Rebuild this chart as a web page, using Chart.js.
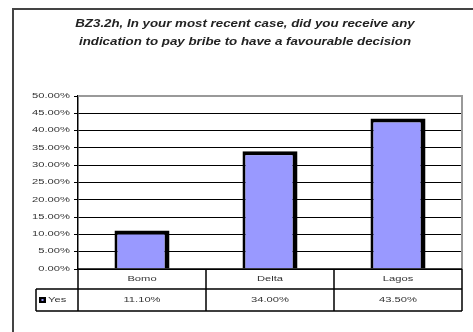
<!DOCTYPE html>
<html>
<head>
<meta charset="utf-8">
<style>
  html, body { margin: 0; padding: 0; background: #ffffff; overflow: hidden; }
  #wrap { width: 473px; height: 332px; overflow: hidden; }
  canvas { display: block; }
</style>
<script src="https://cdn.jsdelivr.net/npm/chart.js@4/dist/chart.umd.min.js"></script>
</head>
<body>
<div id="wrap"><canvas id="chart" width="473" height="332"></canvas></div>
<script>
// Survey answers: share of respondents who got a bribe hint, by court location
const categories = ['Bomo', 'Delta', 'Lagos'];
const seriesName = 'Yes';
const yesValues = [0.111, 0.34, 0.435];
const titleLines = [
  'BZ3.2h, In your most recent case, did you receive any',
  'indication to pay bribe to have a favourable decision'
];

const BAR_FILL = '#9999ff';
const SMALL_FONT = '6.5px "Liberation Sans", Arial, sans-serif';
const SMALL_STRETCH = 1.72;
const TEXT_COLOR = '#333333';

function pct(v) { return (v * 100).toFixed(2) + '%'; }

// Text drawn with a horizontal stretch (wide, squat lettering)
function wideText(ctx, text, x, y, align, sx) {
  ctx.save();
  ctx.translate(x, y);
  ctx.scale(sx, 1);
  ctx.textAlign = align;
  ctx.textBaseline = 'middle';
  ctx.fillText(text, 0, 0);
  ctx.restore();
}

const framePlugin = {
  id: 'frameAndTable',
  beforeDraw(chart) {
    const ctx = chart.ctx;
    ctx.save();
    ctx.fillStyle = '#ffffff';
    ctx.fillRect(0, 0, chart.width, chart.height);
    // outer frame: top and left edges (the rest runs off the page)
    ctx.strokeStyle = '#444444';
    ctx.lineWidth = 2;
    ctx.beginPath();
    ctx.moveTo(13, chart.height);
    ctx.lineTo(13, 9);
    ctx.lineTo(chart.width, 9);
    ctx.stroke();
    // title
    ctx.fillStyle = '#222222';
    ctx.font = 'italic bold 11px "Liberation Sans", Arial, sans-serif';
    titleLines.forEach((line, i) => wideText(ctx, line, 245, 24 + i * 18, 'center', 1.21));
    ctx.restore();
  },
  beforeDatasetsDraw(chart) {
    const ctx = chart.ctx;
    const a = chart.chartArea;
    ctx.save();
    // plot area border (top & right)
    ctx.strokeStyle = '#999999';
    ctx.lineWidth = 2;
    ctx.beginPath();
    ctx.moveTo(a.left, a.top);
    ctx.lineTo(a.right, a.top);
    ctx.lineTo(a.right, a.bottom);
    ctx.stroke();
    ctx.restore();
  },
  afterDraw(chart) {
    const ctx = chart.ctx;
    const a = chart.chartArea;
    const xs = chart.scales.x;
    const ys = chart.scales.y;
    ctx.save();

    // y tick labels
    ctx.fillStyle = TEXT_COLOR;
    ctx.font = SMALL_FONT;
    ys.ticks.forEach(t => {
      wideText(ctx, pct(t.value), a.left - 8, ys.getPixelForValue(t.value), 'right', SMALL_STRETCH);
    });

    // data table under the plot
    const row1Top = a.bottom;
    const row1Bot = row1Top + 20;
    const row2Bot = row1Bot + 22;
    const keyLeft = 36;
    const half = (xs.getPixelForValue(1) - xs.getPixelForValue(0)) / 2;

    ctx.strokeStyle = '#000000';
    ctx.lineWidth = 1.5;
    ctx.beginPath();
    ctx.moveTo(a.left, row1Top); ctx.lineTo(a.right, row1Top);
    ctx.moveTo(keyLeft, row1Bot); ctx.lineTo(a.right, row1Bot);
    ctx.moveTo(keyLeft, row2Bot); ctx.lineTo(a.right, row2Bot);
    ctx.moveTo(keyLeft, row1Bot); ctx.lineTo(keyLeft, row2Bot);
    ctx.moveTo(a.left, row1Top); ctx.lineTo(a.left, row2Bot);
    categories.forEach((c, i) => {
      const right = xs.getPixelForValue(i) + half;
      ctx.moveTo(right, row1Top); ctx.lineTo(right, row2Bot);
    });
    ctx.stroke();

    ctx.fillStyle = TEXT_COLOR;
    ctx.font = SMALL_FONT;
    categories.forEach((c, i) => {
      const cx = xs.getPixelForValue(i);
      wideText(ctx, c, cx, (row1Top + row1Bot) / 2, 'center', SMALL_STRETCH);
      wideText(ctx, pct(yesValues[i]), cx, (row1Bot + row2Bot) / 2, 'center', SMALL_STRETCH);
    });

    // legend key
    const ky = (row1Bot + row2Bot) / 2;
    ctx.fillStyle = '#000000';
    ctx.fillRect(keyLeft + 3, ky - 3, 7, 6);
    ctx.fillStyle = BAR_FILL;
    ctx.fillRect(keyLeft + 5.5, ky - 1, 2, 2);
    ctx.fillStyle = TEXT_COLOR;
    wideText(ctx, seriesName, keyLeft + 12, ky, 'left', SMALL_STRETCH);
    ctx.restore();
  }
};

new Chart(document.getElementById('chart'), {
  type: 'bar',
  data: {
    labels: categories,
    datasets: [{
      label: seriesName,
      data: yesValues,
      backgroundColor: BAR_FILL,
      borderColor: '#000000',
      borderWidth: { top: 4, left: 3, right: 5, bottom: 0 },
      borderSkipped: 'bottom',
      barPercentage: 0.43,
      categoryPercentage: 1
    }]
  },
  options: {
    responsive: false,
    devicePixelRatio: 1,
    animation: false,
    layout: { padding: { top: 96, right: 11, bottom: 63, left: 0 } },
    plugins: { legend: { display: false }, title: { display: false }, tooltip: { enabled: false } },
    scales: {
      x: { display: false },
      y: {
        min: 0,
        max: 0.5,
        ticks: { stepSize: 0.05, display: false },
        grid: { color: '#000000', lineWidth: 1, tickLength: 4, drawTicks: true },
        border: { color: '#000000', width: 1.5 },
        afterFit(scale) { scale.width = 78; }
      }
    }
  },
  plugins: [framePlugin]
});
</script>
</body>
</html>
